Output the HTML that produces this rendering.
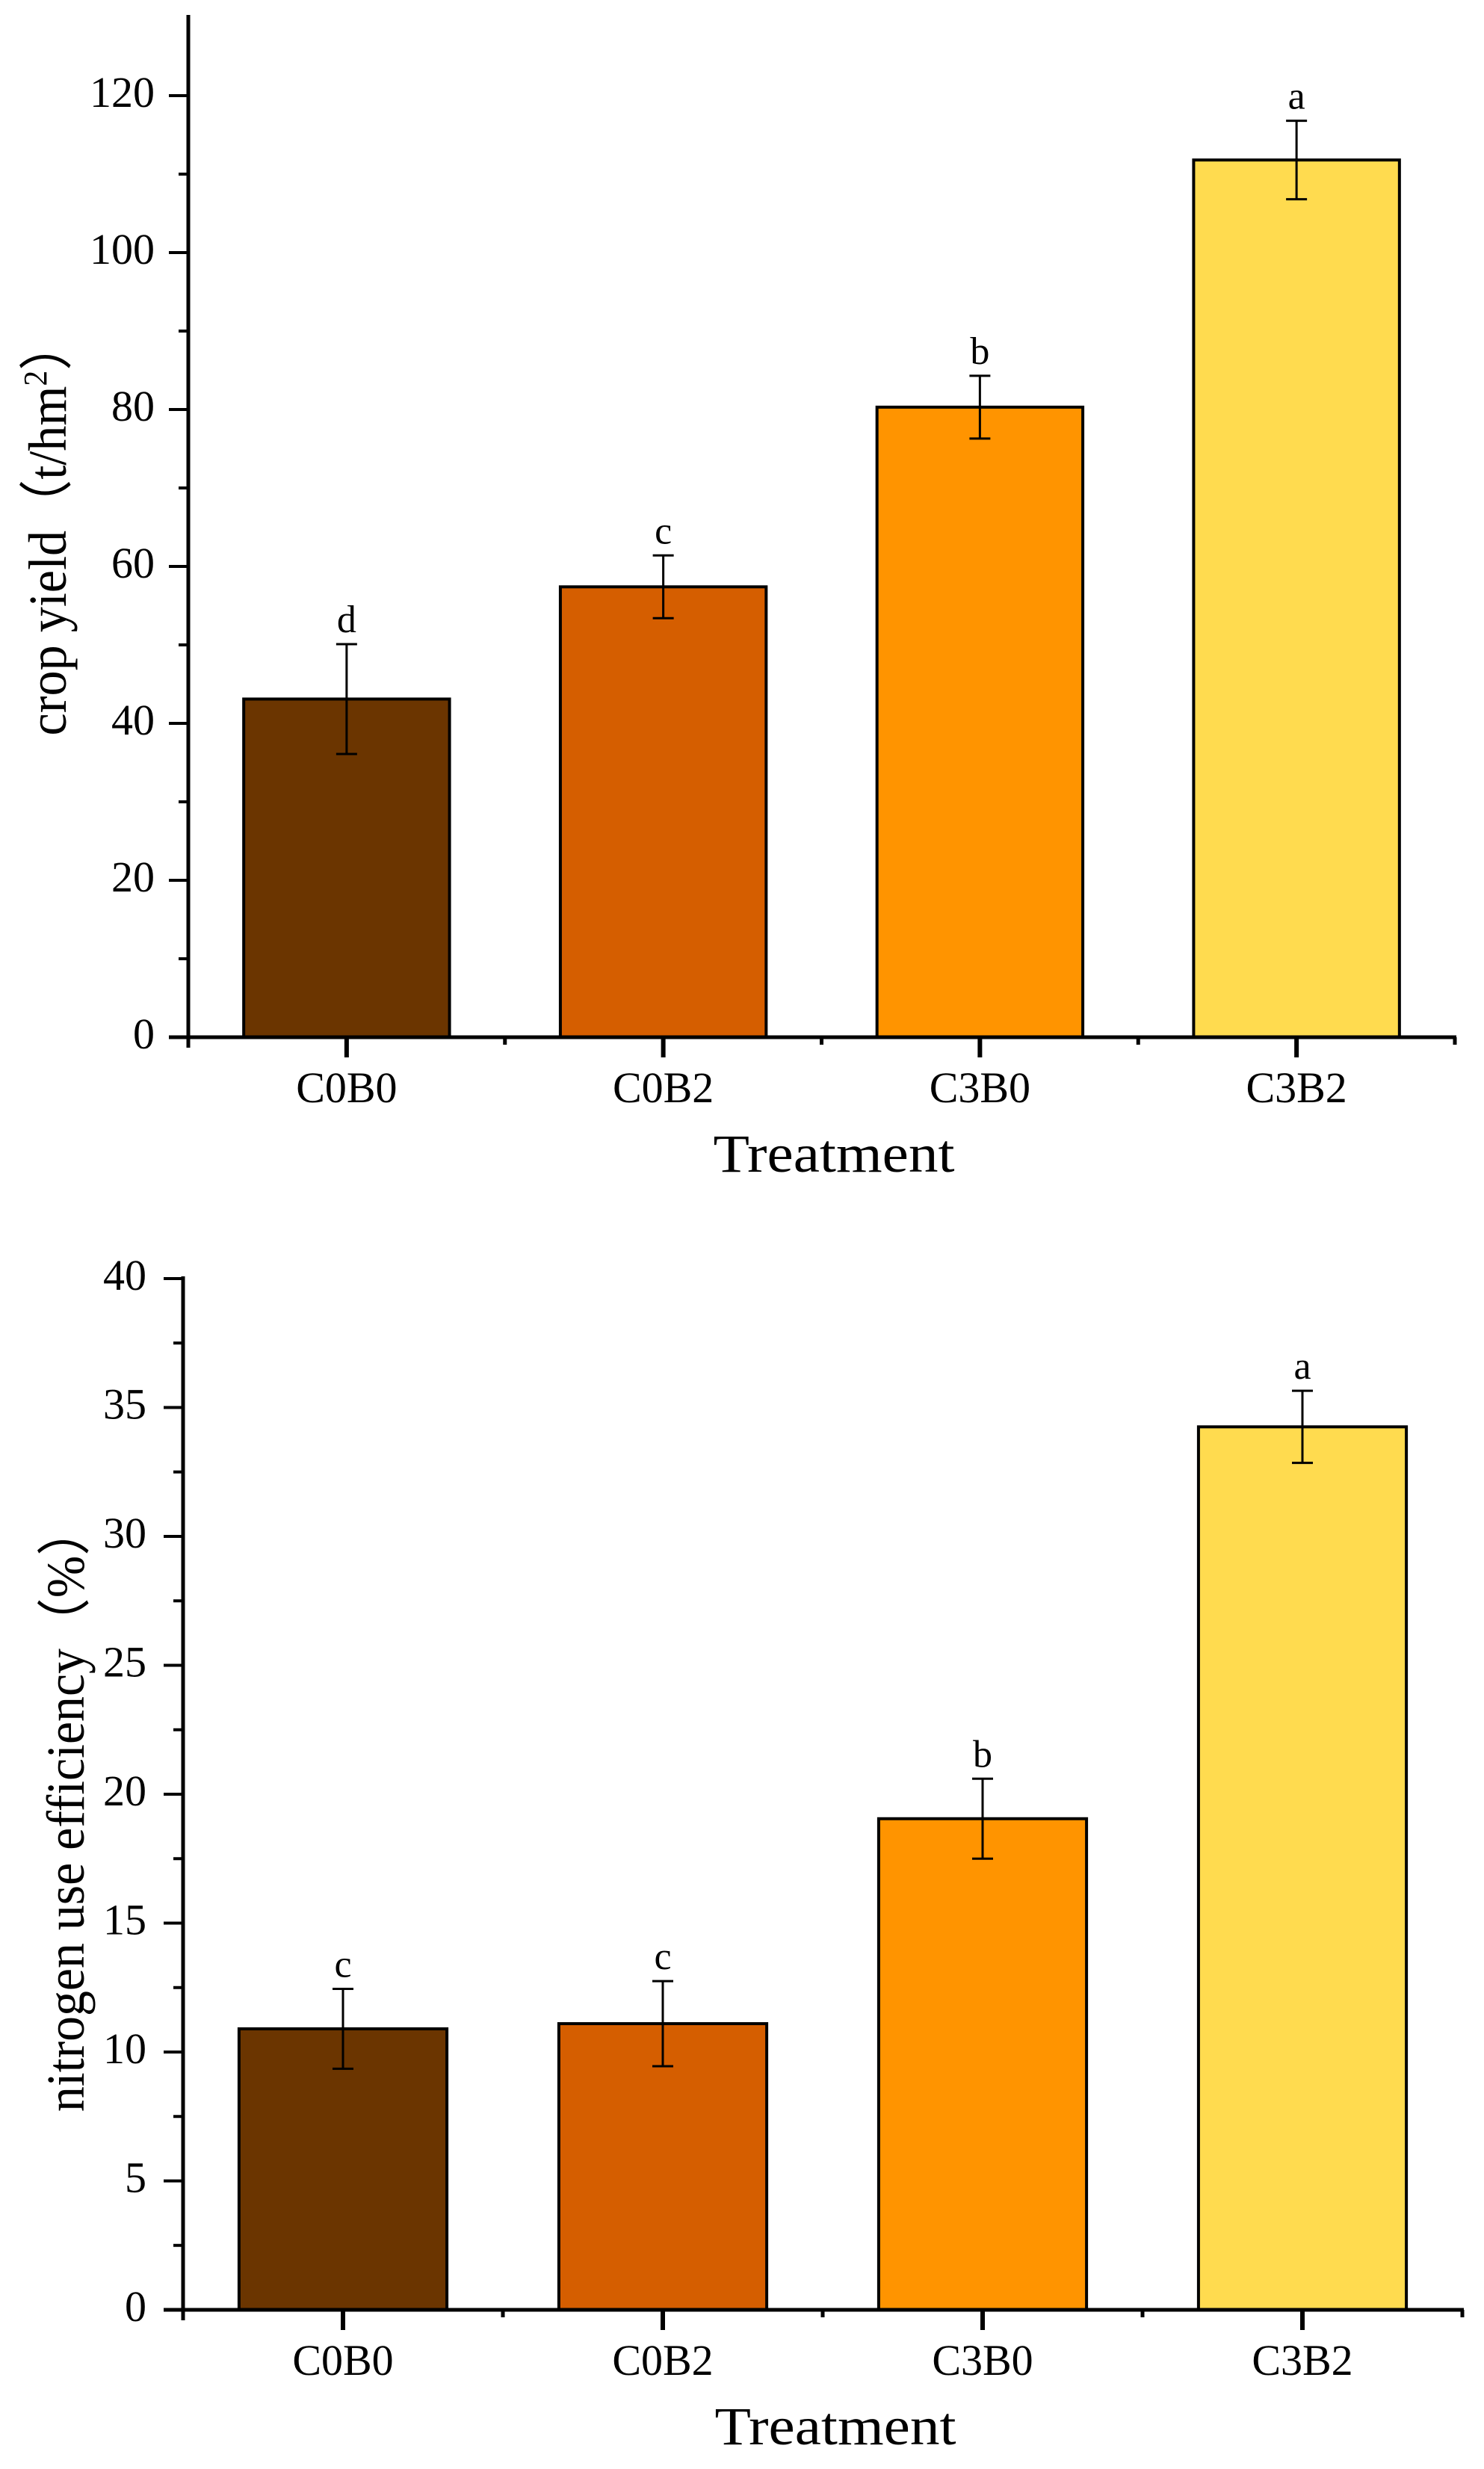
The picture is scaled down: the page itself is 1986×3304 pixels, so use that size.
<!DOCTYPE html>
<html><head><meta charset="utf-8"><style>html,body{margin:0;padding:0;background:#fff}svg{display:block}</style></head>
<body>
<svg id="chart" width="1986" height="3304" viewBox="0 0 1986 3304" xmlns="http://www.w3.org/2000/svg" font-family="'Liberation Serif', serif"></svg>
<script>
const categories = ["C0B0","C0B2","C3B0","C3B2"];
const colors = ["#6B3500","#D55E00","#FF9400","#FFDB4F"];
const yieldValues = [43.1, 57.4, 80.3, 111.8];
const yieldErrors = [7.0, 4.0, 4.0, 5.0];
const yieldLetters = ["d","c","b","a"];
const yieldTicks = [0,20,40,60,80,100,120];
const nueValues = [10.9, 11.1, 19.05, 34.25];
const nueErrors = [1.55, 1.65, 1.55, 1.4];
const nueLetters = ["c","c","b","a"];
const nueTicks = [0,5,10,15,20,25,30,35,40];

const NS = "http://www.w3.org/2000/svg";
const svg = document.getElementById("chart");
function mk(tag, attrs, parent, text){
  const e = document.createElementNS(NS, tag);
  for (const k in attrs) e.setAttribute(k, attrs[k]);
  if (text !== undefined) e.textContent = text;
  (parent||svg).appendChild(e);
  return e;
}

function drawChart(cfg){
  const g = mk("g", {});
  
  
  const x0 = cfg.x0, x1 = cfg.x1, yb = cfg.yBase, yt = cfg.yTop;
  const yScale = v => yb - (v - cfg.min) / (cfg.max - cfg.min) * (yb - yt);
  const band = (x1 - x0) / categories.length;
  const xc = i => x0 + band * (i + 0.5);

  // bars
  categories.forEach((c, i) => {
    const w = band * 0.65;
    const top = yScale(cfg.values[i]);
    const r = mk("rect", {x: xc(i) - w/2, y: top, width: w, height: yb - top, fill: colors[i], stroke: "#000", "stroke-width": 4}, g);
    
    
    const hi = yScale(cfg.values[i] + cfg.errors[i]);
    const lo = yScale(cfg.values[i] - cfg.errors[i]);
    const eb = mk("path", {d: `M${xc(i)} ${hi}V${lo}M${xc(i)-14} ${hi}H${xc(i)+14}M${xc(i)-14} ${lo}H${xc(i)+14}`, stroke: "#000", "stroke-width": 3, fill: "none"}, g);
    
    
    const lt = mk("text", {x: xc(i), y: hi - 16, "text-anchor": "middle", "font-size": 52}, g, cfg.letters[i]);
    
    
    const tk = mk("line", {x1: xc(i), x2: xc(i), y1: yb, y2: yb + 27, stroke: "#000", "stroke-width": 6}, g);
    
    
    const bt = mk("line", {x1: x0 + band*(i+1), x2: x0 + band*(i+1), y1: yb, y2: yb + 10, stroke: "#000", "stroke-width": 5}, g);
    
    
    const cl = mk("text", {x: xc(i), y: yb + 87, "text-anchor": "middle", "font-size": 58}, g, c);
    
    
  });

  // y ticks
  cfg.ticks.forEach((t, k) => {
    const y = yScale(t);
    const tl = mk("line", {x1: x0 - 26, x2: x0, y1: y, y2: y, stroke: "#000", "stroke-width": 4}, g);
    
    
    const lb = mk("text", {x: cfg.labelRight, y: y + 15, "text-anchor": "end", "font-size": 58}, g, String(t));
    
    
    if (k < cfg.ticks.length - 1) {
      const m = (t + cfg.ticks[k+1]) / 2;
      const ml = mk("line", {x1: x0 - 13, x2: x0, y1: yScale(m), y2: yScale(m), stroke: "#000", "stroke-width": 4}, g);
      
      
    }
  });

  // axes
  const ya = mk("line", {x1: x0, x2: x0, y1: cfg.axisTop, y2: yb + 14, stroke: "#000", "stroke-width": 5}, g);
  
  
  const xa = mk("line", {x1: x0 - 26, x2: x1 + 2, y1: yb, y2: yb, stroke: "#000", "stroke-width": 5}, g);
  
  

  const xt = mk("text", {x: cfg.xTitleX, y: yb + 180, "text-anchor": "middle", "font-size": 72, textLength: 323, lengthAdjust: "spacingAndGlyphs"}, g, "Treatment");
  
  

  const yt2 = mk("text", {x: 0, y: 0, "text-anchor": "middle", "font-size": 72, textLength: cfg.yTitleLen, lengthAdjust: "spacingAndGlyphs", transform: `translate(${cfg.yTitleX},${cfg.yTitleY}) rotate(-90)`}, g);
  
  
  yt2.innerHTML = cfg.yTitle;
}

drawChart({name: "crop-yield-chart", x0: 252, x1: 1947, yBase: 1388, yTop: 128, min: 0, max: 120, axisTop: 20,
  values: yieldValues, errors: yieldErrors, letters: yieldLetters, ticks: yieldTicks, labelRight: 207,
  xTitleX: 1116, yTitleX: 88, yTitleY: 706, yTitleLen: 557,
  yTitle: 'crop yield（t/hm<tspan font-size="44" dy="-26">2</tspan><tspan dy="26">）</tspan>'});

drawChart({name: "nitrogen-use-efficiency-chart", x0: 245, x1: 1957, yBase: 3091, yTop: 1711, min: 0, max: 40, axisTop: 1708,
  values: nueValues, errors: nueErrors, letters: nueLetters, ticks: nueTicks, labelRight: 196,
  xTitleX: 1118, yTitleX: 112, yTitleY: 2420, yTitleLen: 812,
  yTitle: 'nitrogen use efficiency（%）'});
</script>
</body></html>
